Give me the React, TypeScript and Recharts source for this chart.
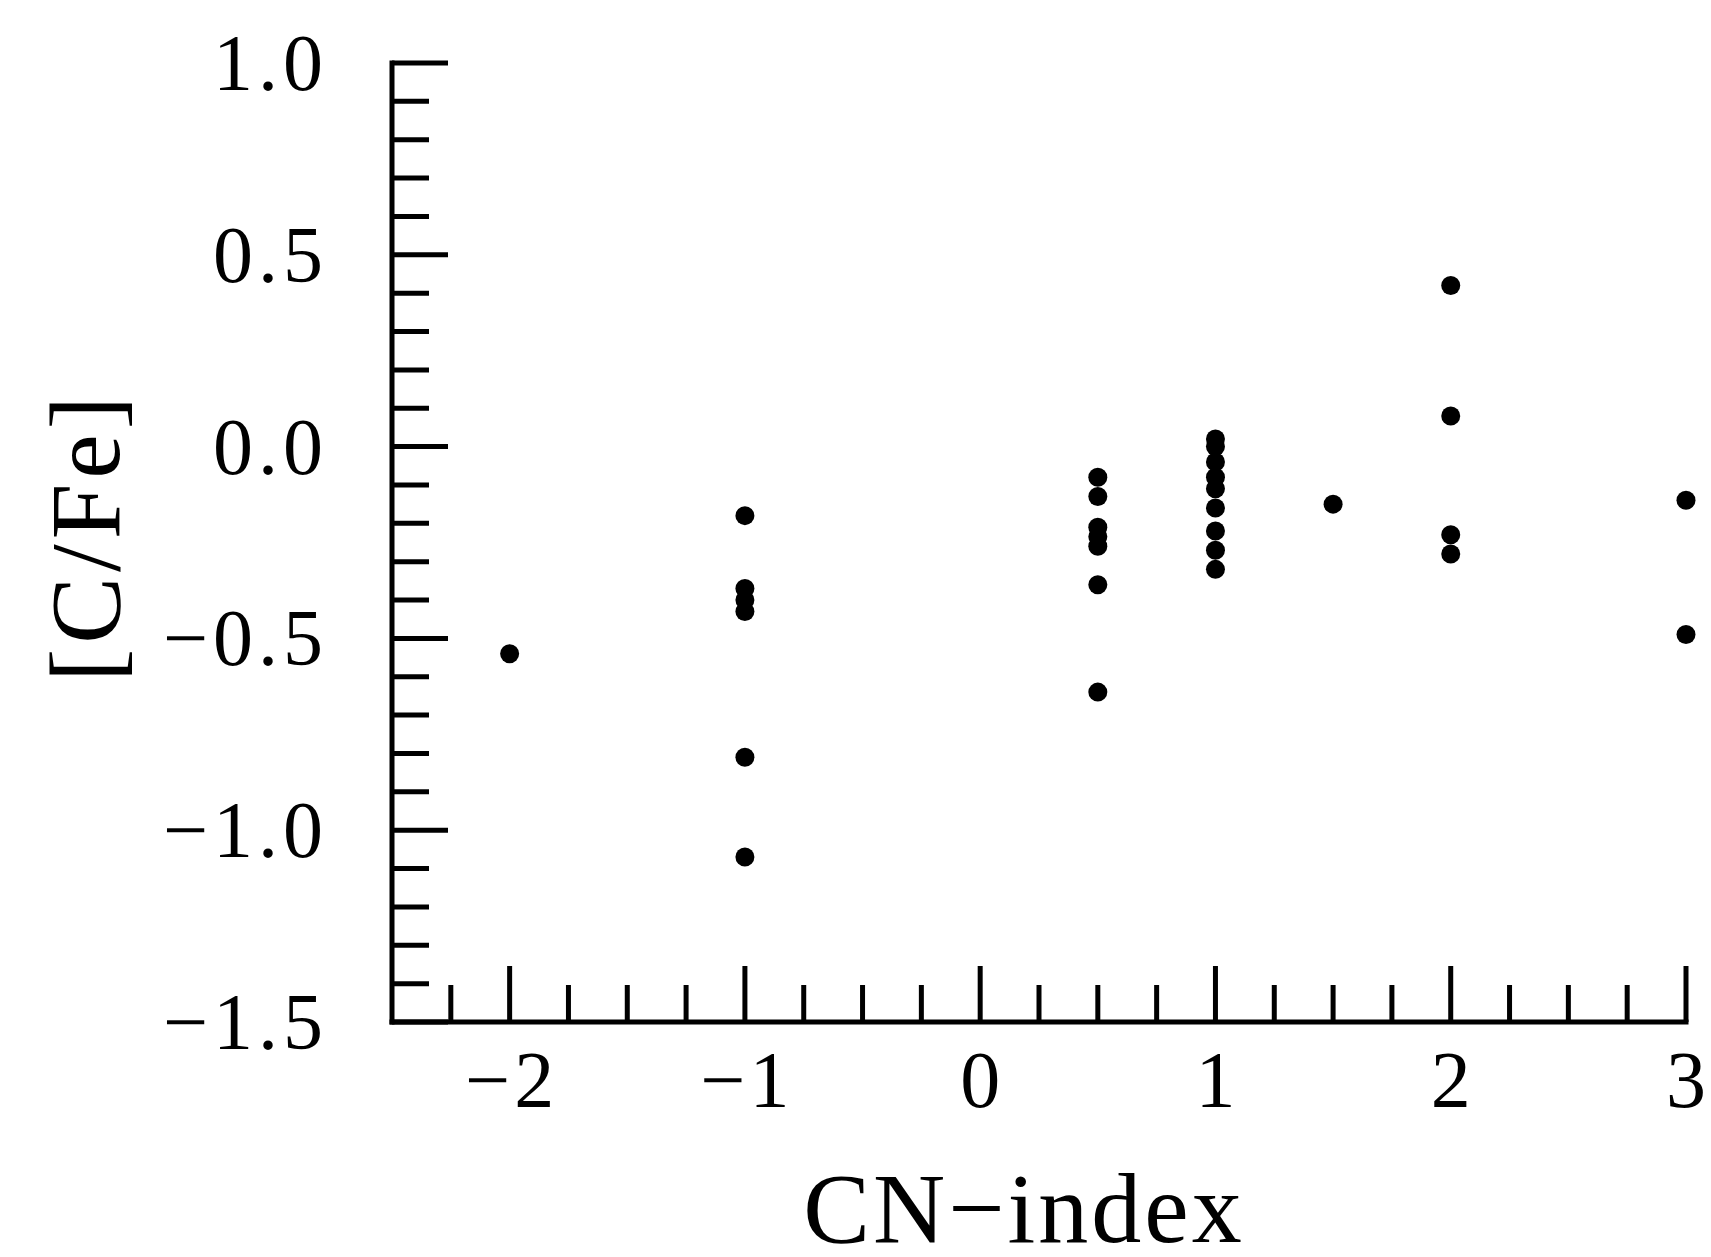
import React from "react";
import { ScatterChart, Scatter, XAxis, YAxis } from "recharts";

// CN-index of each star
const cnIndex = [
  -2,
  -1, -1, -1, -1, -1, -1,
  0.5, 0.5, 0.5, 0.5, 0.5, 0.5, 0.5,
  1, 1, 1, 1, 1, 1, 1, 1, 1,
  1.5,
  2, 2, 2, 2,
  3, 3,
];

// [C/Fe] of each star
const cFe = [
  -0.54,
  -0.18, -0.37, -0.4, -0.43, -0.81, -1.07,
  -0.08, -0.13, -0.21, -0.235, -0.26, -0.36, -0.64,
  0.02, 0.0, -0.04, -0.08, -0.11, -0.16, -0.22, -0.27, -0.32,
  -0.15,
  0.42, 0.08, -0.23, -0.28,
  -0.14, -0.49,
];

const xTicks = [
  -2.25, -2, -1.75, -1.5, -1.25, -1, -0.75, -0.5, -0.25, 0, 0.25, 0.5, 0.75,
  1, 1.25, 1.5, 1.75, 2, 2.25, 2.5, 2.75, 3,
];
const yTicks = [
  -1.5, -1.4, -1.3, -1.2, -1.1, -1.0, -0.9, -0.8, -0.7, -0.6, -0.5, -0.4, -0.3,
  -0.2, -0.1, 0, 0.1, 0.2, 0.3, 0.4, 0.5, 0.6, 0.7, 0.8, 0.9, 1.0,
];

const points = cnIndex.map((x, i) => ({ x, y: cFe[i] }));

const FONT = "'Liberation Serif', 'Times New Roman', serif";
const minus = (s: string) => s.replace("-", "\u2212");

const XTick = (props: any) => {
  const { x, y, payload } = props;
  const v = payload.value;
  const major = Number.isInteger(v);
  return (
    <g>
      <line x1={x} y1={y} x2={x} y2={y - (major ? 56 : 37)} stroke="#000" strokeWidth={5} />
      {major && (
        <text x={x + 2} y={y + 85} textAnchor="middle" fontFamily={FONT} fontSize={80} letterSpacing={4} fill="#000">
          {minus(String(v))}
        </text>
      )}
    </g>
  );
};

const YTick = (props: any) => {
  const { x, y, payload } = props;
  const v = payload.value;
  const major = Math.abs(v * 2 - Math.round(v * 2)) < 1e-6;
  return (
    <g>
      <line x1={x} y1={y} x2={x + (major ? 56 : 37)} y2={y} stroke="#000" strokeWidth={5} />
      {major && (
        <text x={x - 64} y={y + 27} textAnchor="end" fontFamily={FONT} fontSize={80} letterSpacing={5} fill="#000">
          {minus(v.toFixed(1))}
        </text>
      )}
    </g>
  );
};

const XTitle = (props: any) => {
  const vb = props.viewBox;
  return (
    <text
      x={vb.x + vb.width / 2 - 15}
      y={vb.y + 220}
      textAnchor="middle"
      fontFamily={FONT}
      fontSize={100}
      letterSpacing={3}
      fill="#000"
    >
      CN{"\u2212"}index
    </text>
  );
};

const YTitle = (props: any) => {
  const vb = props.viewBox;
  const cx = 119;
  const cy = vb.y + vb.height / 2 - 6;
  return (
    <text
      x={cx}
      y={cy}
      transform={`rotate(-90 ${cx} ${cy})`}
      textAnchor="middle"
      fontFamily={FONT}
      fontSize={100}
      letterSpacing={5}
      fill="#000"
    >
      [C/Fe]
    </text>
  );
};

export default function App() {
  return (
    <div style={{ position: "absolute", top: 0, left: 0, width: 1711, height: 1257, background: "#fff" }}>
      <ScatterChart width={1711} height={1257} margin={{ top: 63, right: 25, bottom: 0, left: 0 }}>
        <XAxis
          type="number"
          dataKey="x"
          domain={[-2.5, 3]}
          ticks={xTicks}
          interval={0}
          height={235}
          tickSize={0}
          tickMargin={0}
          tickLine={false}
          axisLine={{ stroke: "#000", strokeWidth: 5, strokeLinecap: "square" }}
          tick={<XTick />}
          label={{ content: XTitle }}
        />
        <YAxis
          type="number"
          dataKey="y"
          domain={[-1.5, 1]}
          ticks={yTicks}
          interval={0}
          width={392}
          tickSize={0}
          tickMargin={0}
          tickLine={false}
          axisLine={{ stroke: "#000", strokeWidth: 5, strokeLinecap: "square" }}
          tick={<YTick />}
          label={{ content: YTitle }}
        />
        <Scatter
          data={points}
          isAnimationActive={false}
          shape={(p: any) => <circle cx={p.cx} cy={p.cy} r={9.5} fill="#000" />}
        />
      </ScatterChart>
    </div>
  );
}
